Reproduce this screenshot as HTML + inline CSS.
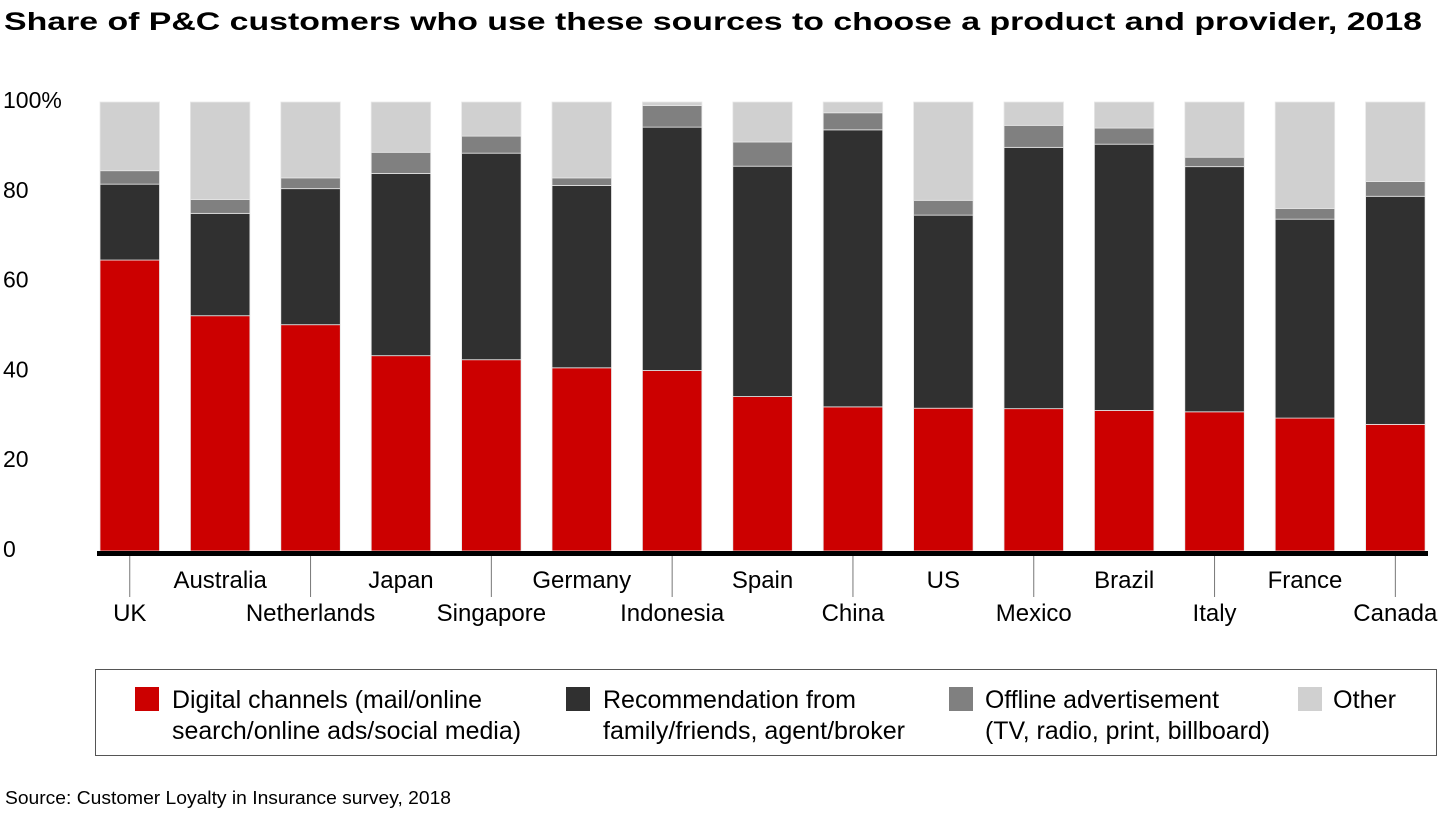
<!DOCTYPE html>
<html><head><meta charset="utf-8"><style>
body{margin:0;background:#fff;width:1440px;height:810px;overflow:hidden;font-family:"Liberation Sans",Arial,sans-serif}
svg text{font-family:"Liberation Sans",Arial,sans-serif}
</style></head><body>
<svg id="chart" width="1440" height="810">
<text x="4" y="30" font-size="25" font-weight="bold" fill="#000" textLength="1418" lengthAdjust="spacingAndGlyphs">Share of P&amp;C customers who use these sources to choose a product and provider, 2018</text>
<g id="yaxis"></g>
<g id="bars"></g>
<rect x="97" y="551" width="1331" height="5" fill="#000"/>
<g id="xaxis"></g>
<g>
<rect x="95.5" y="669.5" width="1341" height="86" fill="none" stroke="#555" stroke-width="1"/>
<g><rect x="135" y="687" width="24" height="24" fill="#cc0000"/><text x="172" y="708" font-size="25" textLength="310" lengthAdjust="spacingAndGlyphs">Digital channels (mail/online</text><text x="172" y="739" font-size="25" textLength="349" lengthAdjust="spacingAndGlyphs">search/online ads/social media)</text></g>
<g><rect x="566" y="687" width="24" height="24" fill="#303030"/><text x="603" y="708" font-size="25" textLength="253" lengthAdjust="spacingAndGlyphs">Recommendation from</text><text x="603" y="739" font-size="25" textLength="302" lengthAdjust="spacingAndGlyphs">family/friends, agent/broker</text></g>
<g><rect x="949" y="687" width="24" height="24" fill="#808080"/><text x="985" y="708" font-size="25" textLength="234" lengthAdjust="spacingAndGlyphs">Offline advertisement</text><text x="985" y="739" font-size="25" textLength="285" lengthAdjust="spacingAndGlyphs">(TV, radio, print, billboard)</text></g>
<g><rect x="1298" y="687" width="24" height="24" fill="#d0d0d0"/><text x="1333" y="708" font-size="25" textLength="63" lengthAdjust="spacingAndGlyphs">Other</text></g>
</g>
<text x="5" y="804" font-size="18" fill="#000" textLength="446" lengthAdjust="spacingAndGlyphs">Source: Customer Loyalty in Insurance survey, 2018</text>
</svg>
<script>
const categories=["UK","Australia","Netherlands","Japan","Singapore","Germany","Indonesia","Spain","China","US","Mexico","Brazil","Italy","France","Canada"];
const digital=[64.8,52.4,50.4,43.5,42.6,40.8,40.2,34.4,32.1,31.8,31.7,31.3,31.0,29.6,28.2];
const recommendation=[16.9,22.8,30.3,40.6,46.0,40.6,54.2,51.3,61.7,43.0,58.2,59.3,54.6,44.3,50.8];
const offline=[3.0,3.1,2.4,4.7,3.8,1.7,4.8,5.4,3.8,3.3,4.9,3.6,2.1,2.4,3.3];
const other=[15.3,21.7,16.9,11.2,7.6,16.9,0.8,8.9,2.4,21.9,5.2,5.8,12.3,23.7,17.7];
const yTicks=[0,20,40,60,80,100];
const yTickLabels=["0","20","40","60","80","100%"];
const NS="http://www.w3.org/2000/svg";
const y0=551,pxPerUnit=4.49,x0=100,step=90.4,bw=59.5;
function yScale(v){return y0-v*pxPerUnit;}
function xScale(i){return x0+i*step;}
const yaxis=document.getElementById('yaxis');
yTicks.forEach((t,i)=>{
  const tx=document.createElementNS(NS,'text');
  tx.setAttribute('x',3);tx.setAttribute('y',yScale(t)+6);
  tx.setAttribute('font-size','23');
  tx.textContent=yTickLabels[i];
  
  
  yaxis.appendChild(tx);
});
const series=[[digital,'#cc0000','digital'],[recommendation,'#303030','recommendation'],[offline,'#808080','offline'],[other,'#d0d0d0','other']];
const bars=document.getElementById('bars');
categories.forEach((c,i)=>{
  let acc=0;
  series.forEach(([arr,col,nm])=>{
    const v=arr[i];
    const r=document.createElementNS(NS,'rect');
    r.setAttribute('x',xScale(i));r.setAttribute('width',bw);
    r.setAttribute('y',yScale(acc+v));r.setAttribute('height',v*pxPerUnit);
    r.setAttribute('fill',col);r.setAttribute('stroke','#e8e8e8');r.setAttribute('stroke-width','0.8');
    
    
    bars.appendChild(r);
    acc+=v;
  });
});
const xaxis=document.getElementById('xaxis');
categories.forEach((c,i)=>{
  const cx=xScale(i)+bw/2;
  const low=i%2===0;
  if(low){
    const l=document.createElementNS(NS,'line');
    l.setAttribute('x1',cx);l.setAttribute('x2',cx);l.setAttribute('y1',556);l.setAttribute('y2',597);
    l.setAttribute('stroke','#777');l.setAttribute('stroke-width','1');
    
    
    xaxis.appendChild(l);
  }
  const t=document.createElementNS(NS,'text');
  t.setAttribute('x',cx);t.setAttribute('y',low?621:588);
  t.setAttribute('text-anchor','middle');t.setAttribute('font-size','24');
  t.textContent=c;
  
  
  xaxis.appendChild(t);
});
</script>
</body></html>
